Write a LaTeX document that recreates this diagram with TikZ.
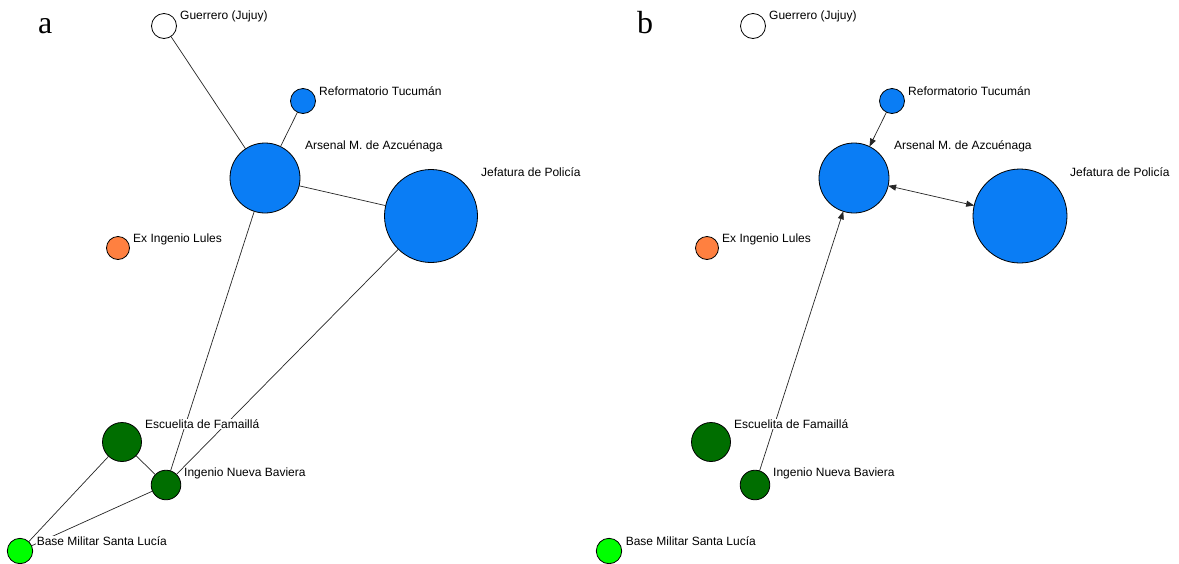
\documentclass[tikz,border=0pt]{standalone}
\usepackage{fontspec}
\setmainfont{Liberation Sans}
\newfontfamily\serifpanel{Liberation Serif}
\usetikzlibrary{arrows.meta}
\definecolor{nodeblue}{RGB}{10,125,245}
\definecolor{nodeorange}{RGB}{255,128,64}
\definecolor{nodedkgreen}{RGB}{0,110,0}
\definecolor{nodelime}{RGB}{0,255,0}
\begin{document}
\begin{tikzpicture}[x=1pt,y=-1pt,
  vtx/.style={circle,draw=black,line width=0.8pt,inner sep=0pt,outer sep=0pt,minimum size=#1},
  lbl/.style={anchor=west,fill=white,inner sep=0.6pt,font=\fontsize{12}{12}\selectfont},
  link/.style={draw=black!85,line width=0.7pt},
  arr/.style={link,-{Triangle[length=8pt,width=6pt]}},
  barr/.style={link,{Triangle[length=8pt,width=6pt]}-{Triangle[length=8pt,width=6pt]}},
  panel/.style={font=\serifpanel\fontsize{32}{32}\selectfont,inner sep=0pt,anchor=base west}]
\useasboundingbox[fill=white] (0,0) rectangle (1179,563);

% ---------- panel a ----------
\node[panel] (pa) at (38,33) {a};
\node[vtx=25pt,fill=white] (aG) at (164,26) {};
\node[vtx=25pt,fill=nodeblue] (aR) at (303,101) {};
\node[vtx=70pt,fill=nodeblue] (aA) at (265,178) {};
\node[vtx=93pt,fill=nodeblue] (aJ) at (431,216) {};
\node[vtx=23pt,fill=nodeorange] (aL) at (118,248) {};
\node[vtx=39pt,fill=nodedkgreen] (aE) at (122,442) {};
\node[vtx=29.6pt,fill=nodedkgreen] (aN) at (166,485) {};
\node[vtx=25.4pt,fill=nodelime] (aB) at (20,551) {};

\draw[link] (aG) -- (aA);
\draw[link] (aR) -- (aA);
\draw[link] (aA) -- (aJ);
\draw[link] (aA) -- (aN);
\draw[link] (aJ) -- (aN);
\draw[link] (aE) -- (aN);
\draw[link] (aE) -- (aB);
\draw[link] (aN) -- (aB);

\node[lbl] (aGl) at (179.4,16) {Guerrero (Jujuy)};
\node[lbl] (aRl) at (318.4,91) {Reformatorio Tucumán};
\node[lbl] (aAl) at (304.4,146) {Arsenal M. de Azcuénaga};
\node[lbl] (aJl) at (480.4,172) {Jefatura de Policía};
\node[lbl] (aLl) at (132.4,239) {Ex Ingenio Lules};
\node[lbl] (aEl) at (144.4,424) {Escuelita de Famaillá};
\node[lbl] (aNl) at (183.4,473) {Ingenio Nueva Baviera};
\node[lbl] (aBl) at (36,541) {Base Militar Santa Lucía};

% ---------- panel b ----------
\node[panel] (pb) at (637,33) {b};
\node[vtx=25pt,fill=white] (bG) at (753,26) {};
\node[vtx=25pt,fill=nodeblue] (bR) at (892,101) {};
\node[vtx=70pt,fill=nodeblue] (bA) at (854,178) {};
\node[vtx=94pt,fill=nodeblue] (bJ) at (1020,216) {};
\node[vtx=23pt,fill=nodeorange] (bL) at (707,248) {};
\node[vtx=39pt,fill=nodedkgreen] (bE) at (711,442) {};
\node[vtx=29.6pt,fill=nodedkgreen] (bN) at (755,485) {};
\node[vtx=25.4pt,fill=nodelime] (bB) at (609,551) {};

\draw[arr] (bR) -- (bA);
\draw[barr] (bA) -- (bJ);
\draw[arr] (bN) -- (bA);

\node[lbl] (bGl) at (768.4,16) {Guerrero (Jujuy)};
\node[lbl] (bRl) at (907.4,91) {Reformatorio Tucumán};
\node[lbl] (bAl) at (893.4,146) {Arsenal M. de Azcuénaga};
\node[lbl] (bJl) at (1069.4,172) {Jefatura de Policía};
\node[lbl] (bLl) at (721.4,239) {Ex Ingenio Lules};
\node[lbl] (bEl) at (733.4,424) {Escuelita de Famaillá};
\node[lbl] (bNl) at (772.4,473) {Ingenio Nueva Baviera};
\node[lbl] (bBl) at (625,541) {Base Militar Santa Lucía};
\end{tikzpicture}
\end{document}
